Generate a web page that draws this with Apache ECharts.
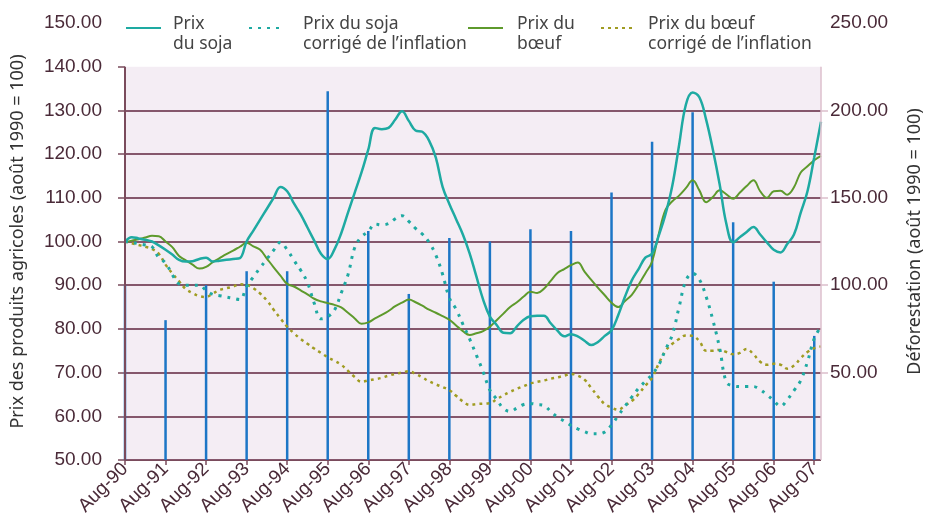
<!DOCTYPE html>
<html>
<head>
<meta charset="utf-8">
<script src="https://cdn.jsdelivr.net/npm/echarts@6/dist/echarts.min.js"></script>
<style>
  html, body { margin: 0; padding: 0; background: #fff; }
  #main { width: 937px; height: 527px; }
</style>
</head>
<body>
<div id="main"></div>
<script>
// bi-monthly points, Aug-90 .. Oct-07
var months = ["Aug", "Oct", "Dec", "Feb", "Apr", "Jun"];
var categories = [];
for (var i = 0; i < 104; i++) {
  var yr = (90 + Math.floor(i / 6) + (i % 6 >= 3 ? 1 : 0)) % 100;
  categories.push(months[i % 6] + "-" + (yr < 10 ? "0" : "") + yr);
}

var soja = [100, 101, 100.7, 100.4, 100, 99.1, 98.1, 97, 95.8, 95.4, 95.5, 96,
  96.3, 95.4, 95.6, 95.8, 96, 96.2, 100, 102.5, 105, 107.5, 110, 112.5,
  111.5, 108.7, 106.2, 103.2, 100.2, 97.2, 96, 98.2, 101.9, 106.6, 111.2, 115.8,
  121, 126, 125.7, 126, 127.9, 129.8, 127.6, 125.4, 125.1, 123.1, 119.2, 112.5,
  108.6, 105.1, 101.6, 97.3, 92, 86.7, 82.8, 80.9, 79.1, 79, 80.6, 82.1,
  82.9, 83, 83, 81.3, 79.6, 78.3, 78.8, 78.3, 77.3, 76.3, 77, 78.4,
  79.7, 83.2, 87.4, 91.1, 93.7, 96.3, 97.2, 101.4, 106.3, 112.8, 122.1, 131.3,
  134.1, 133, 127.9, 121, 113.1, 104, 99.8, 101, 102.2, 103.3, 101.6, 99.8,
  98.1, 97.5, 99.4, 101.6, 106.6, 111.5, 119.3, 127.4];

var sojaReel = [100, 99.8, 99.5, 99.2, 98.8, 96.3, 95.1, 92.4, 90.3, 90, 90, 90,
  88.8, 87.9, 87.6, 87.3, 87, 86.7, 89.7, 91.9, 94, 96, 98, 99.8,
  98.1, 95.7, 93.4, 90.6, 85.9, 82.3, 82.8, 84.3, 88.2, 92.4, 98.6, 101.1,
  102.3, 104, 103.8, 104.1, 105.2, 105.9, 104.6, 103, 101.7, 99.8, 96.9, 92.5,
  87.1, 84.5, 81.1, 77.7, 74, 70.2, 66, 63.9, 61.8, 61.1, 61.9, 62.7,
  62.9, 62.7, 62.5, 61.1, 59.8, 58.9, 57.9, 57.1, 56.5, 56, 56, 56.4,
  58, 60.2, 62.3, 64.4, 66.4, 68, 69.6, 71.8, 75.3, 78.7, 85, 91,
  92.7, 91.3, 87.4, 82, 75.6, 67.8, 67, 66.8, 66.8, 66.8, 66.1, 64.9,
  63.6, 62.3, 63.8, 65.9, 68.2, 72.5, 77.8, 80.5];

var boeuf = [99.8, 100.2, 100.5, 100.9, 101.3, 101.2, 100, 98.7, 96.7, 95.7, 94.7, 93.8,
  94.2, 95.3, 96.2, 97.1, 97.9, 98.8, 99.7, 98.9, 98.1, 96.1, 94.1, 92.2,
  90.3, 89.7, 88.8, 87.9, 86.9, 86.3, 85.9, 85.5, 84.9, 83.7, 82.4, 81.2,
  81.5, 82.4, 83.2, 84.1, 85.2, 86, 86.7, 86.1, 85.3, 84.4, 83.7, 82.9,
  82.1, 80.8, 79.5, 78.6, 79, 79.5, 80.5, 82, 83.5, 85, 86.1, 87.4,
  88.5, 88.2, 89.2, 91, 92.8, 93.7, 94.6, 95.2, 93.1, 91.2, 89.4, 87.7,
  86, 85, 86.4, 87.8, 90.1, 92.7, 95.4, 101.8, 107.3, 109.2, 110.5, 112.2,
  114, 111.7, 109, 110.2, 111.7, 110.8, 109.8, 111.2, 112.7, 114, 111.5, 110,
  111.5, 111.6, 110.7, 112.4, 115.8, 117.2, 118.6, 119.6];

var boeufReel = [100, 99.6, 99.2, 98.8, 98.3, 97.2, 94.7, 92.7, 90.9, 89.1, 88.2, 87.5,
  87.3, 88.1, 88.9, 89.3, 89.7, 90.2, 90.1, 89.3, 88.1, 86.5, 84.4, 82.4,
  80.5, 79, 77.7, 76.6, 75.5, 74.5, 73.5, 72.7, 71.8, 70.4, 69, 67.9,
  68.2, 68.5, 68.8, 69.3, 69.7, 70, 70.3, 69.7, 68.9, 68, 67.3, 66.7,
  66, 64.7, 63.4, 62.6, 62.8, 62.9, 63, 63.9, 64.8, 65.6, 66.3, 66.9,
  67.5, 67.9, 68.2, 68.6, 68.9, 69.3, 69.7, 69.3, 68.4, 66.5, 64.5, 62.8,
  62, 61.5, 62.5, 63.5, 65.1, 67, 68.8, 72.1, 75, 76.6, 77.7, 78.5,
  78.4, 77.2, 75, 75, 75.2, 74.7, 74.2, 74.5, 75.4, 74.2, 72.5, 71.8,
  72, 71.8, 70.9, 71.6, 73.3, 74.7, 75.6, 76];

// deforestation, one value each August 1990..2007
var deforestation = [100, 80, 100, 108, 108, 211, 131, 95, 127, 125,
  132, 131, 153, 182, 199, 136, 102, 71];

var leftTicks = [50, 60, 70, 80, 90, 100, 110, 120, 130, 140];
var rightLabels = [50, 100, 150, 200, 250];
var rightTicks = [50, 100, 150, 200];

var defoData = categories.map(function (c, i) {
  return i % 6 === 0 ? deforestation[i / 6] : null;
});

var maroon = "#7a4b5c";
var labelColor = "#4a2a38";
var teal = "#1eaaa2";
var green = "#5e9a2c";
var olive = "#a09c22";

var chart = echarts.init(document.getElementById("main"));

// one legend per item so each sits where it does in the original;
// a short spacer line keeps the icon level with the first text line
function legendAt(name, left, textGap) {
  return {
    data: [name],
    left: left,
    top: 2,
    itemWidth: 35,
    itemHeight: 14,
    itemStyle: { opacity: 0 },
    formatter: function (n) {
      return "{sp| }\n" + n.split("\n").map(function (p) { return "{t|" + p + "}"; }).join("\n");
    },
    textStyle: {
      padding: [0, 0, 0, textGap],
      rich: {
        sp: { fontSize: 2, lineHeight: 12 },
        t: { fontFamily: "Noto Sans", fontSize: 17.5, lineHeight: 20, color: "#444" }
      }
    }
  };
}

var option = {
  animation: false,
  legend: [
    legendAt("Prix\ndu soja", 120, 7),
    legendAt("Prix du soja\ncorrigé de l’inflation", 243, 14),
    legendAt("Prix du\nbœuf", 462, 9),
    legendAt("Prix du bœuf\ncorrigé de l’inflation", 595, 7)
  ],
  grid: { left: 125, right: 116, top: 23, bottom: 67, outerBoundsMode: "none", containLabel: false },
  xAxis: {
    type: "category",
    data: categories,
    boundaryGap: false,
    axisLine: { show: false },
    axisTick: { show: true, interval: 5, length: 5, lineStyle: { color: maroon, width: 1.5 } },
    axisLabel: {
      interval: 5,
      rotate: 45,
      margin: 6,
      fontFamily: "Liberation Sans",
      fontSize: 19,
      color: labelColor
    },
    splitLine: { show: false }
  },
  yAxis: [
    {
      type: "value",
      min: 50,
      max: 150,
      interval: 10,
      name: "Prix des produits agricoles (août 1990 = 100)",
      nameLocation: "middle",
      nameGap: 98,
      nameTextStyle: { fontFamily: "Noto Sans", fontSize: 18, color: "#333" },
      axisLine: { show: false },
      axisTick: { show: true, length: 7, customValues: leftTicks, lineStyle: { color: maroon, width: 1.5 } },
      axisLabel: {
        margin: 23,
        fontFamily: "Liberation Sans",
        fontSize: 19,
        color: labelColor,
        formatter: function (v) { return v.toFixed(2); }
      },
      splitLine: { show: true, showMaxLine: false, lineStyle: { color: maroon, width: 2 } }
    },
    {
      type: "value",
      min: 0,
      max: 250,
      interval: 50,
      name: "Déforestation (août 1990 = 100)",
      nameLocation: "middle",
      nameGap: 85,
      nameTextStyle: { fontFamily: "Noto Sans", fontSize: 18, color: "#333" },
      axisLine: { show: false },
      axisTick: { show: true, length: 7, customValues: rightTicks, lineStyle: { color: "#dcbfcc", width: 1.5 } },
      axisLabel: {
        margin: 9,
        customValues: rightLabels,
        fontFamily: "Liberation Sans",
        fontSize: 19,
        color: labelColor,
        formatter: function (v) { return v.toFixed(2); }
      },
      splitLine: { show: false }
    }
  ],
  series: [
    {
      name: "Déforestation",
      type: "bar",
      yAxisIndex: 1,
      data: defoData,
      barWidth: 2.5,
      itemStyle: { color: "#1c76c6" },
      markArea: {
        silent: true,
        itemStyle: { color: "rgba(190,150,190,0.17)" },
        data: [[{ yAxis: 0 }, { yAxis: 225 }]]
      }
    },
    {
      name: "Prix du bœuf\ncorrigé de l’inflation",
      type: "line",
      data: boeufReel,
      smooth: 0.4,
      symbol: "none",
      lineStyle: { color: olive, width: 2.5, type: [3, 4] },
      itemStyle: { color: olive }
    },
    {
      name: "Prix du\nbœuf",
      type: "line",
      data: boeuf,
      smooth: 0.4,
      symbol: "none",
      lineStyle: { color: green, width: 2 },
      itemStyle: { color: green },
      markLine: {
        silent: true,
        symbol: "none",
        label: { show: false },
        data: [
          [{ coord: [0, 50], lineStyle: { color: maroon, width: 2, type: "solid" } }, { coord: [0, 140] }],
          [{ coord: [103, 50], lineStyle: { color: "#dcbfcc", width: 1.5, type: "solid" } }, { coord: [103, 140] }]
        ]
      }
    },
    {
      name: "Prix du soja\ncorrigé de l’inflation",
      type: "line",
      data: sojaReel,
      smooth: 0.4,
      symbol: "none",
      lineStyle: { color: teal, width: 3, type: [3, 6] },
      itemStyle: { color: teal }
    },
    {
      name: "Prix\ndu soja",
      type: "line",
      data: soja,
      smooth: 0.4,
      symbol: "none",
      lineStyle: { color: teal, width: 2.5 },
      itemStyle: { color: teal }
    }
  ]
};

chart.setOption(option);
</script>
</body>
</html>
